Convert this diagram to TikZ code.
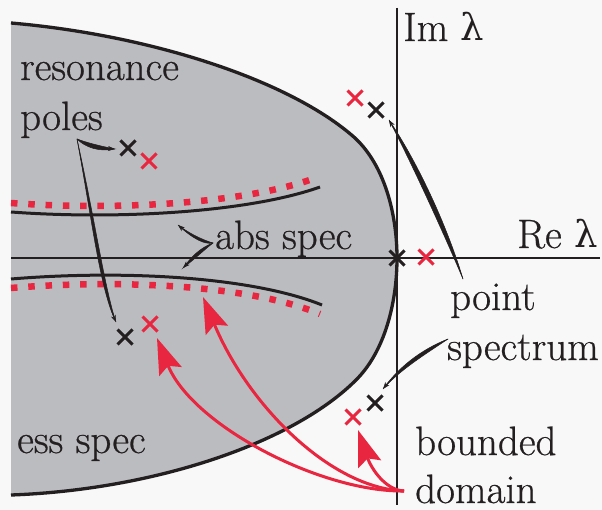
\documentclass[tikz,border=0pt]{standalone}
\usepackage{fontspec}
\newfontfamily\lamfont{DejaVu Serif}
\newfontfamily\lblfont{Latin Modern Roman}[FakeBold=0.6]
\usetikzlibrary{arrows.meta,shapes.misc}
\definecolor{bg}{HTML}{F8F8F8}
\definecolor{essgray}{HTML}{BBBCC0}
\definecolor{specred}{HTML}{E8263F}
\definecolor{ink}{HTML}{231F20}
\newcommand\lam{{\lamfont\fontsize{37}{42}\selectfont λ}}
\newcommand\essboundary{(11,23) .. controls (150,35) and (290,80) .. (355,138) .. controls (385,166) and (397,215) .. (397,258) .. controls (397,302) and (385,352) .. (355,381) .. controls (290,445) and (150,490) .. (11,495)}
\tikzset{
  xmk/.style={cross out, draw=#1, line width=3pt, minimum size=12pt, inner sep=0pt},
  lbl/.style={anchor=base west, inner sep=0pt, text=ink, font=\lblfont\fontsize{41}{48}\selectfont},
  swoosh/.style={draw=ink, fill=ink, line width=0.5pt},
  swtip/.style={draw=ink, line width=0.5pt, -{Stealth[length=7pt,width=5pt]}},
  redarrow/.style={draw=specred, line width=3pt, -{Stealth[length=36pt,width=24pt,inset=6pt]}},
  abscurve/.style={draw=ink, line width=3pt},
  absdots/.style={draw=specred, line width=6.5pt, dash pattern=on 6.5pt off 10.8pt}
}
\begin{document}
\begin{tikzpicture}[x=1pt,y=-1pt]
\useasboundingbox (0,0) rectangle (602,510);
\fill[bg] (0,0) rectangle (602,510);
% essential spectrum region
\fill[essgray] \essboundary -- cycle;
% absolute spectrum curves
\draw[absdots] (11,203) .. controls (120,211) and (250,203) .. (318,177);
\draw[abscurve] (11,212) .. controls (120,220) and (250,212) .. (320,187);
\draw[abscurve] (11,279) .. controls (120,270) and (250,276) .. (322,305);
\draw[absdots] (11,288) .. controls (120,279) and (250,285) .. (320,314);
% axes
\draw[ink, line width=1.3pt] (11,258) -- (600,258);
\draw[ink, line width=1.3pt] (397,8) -- (397,505);
% boundary
\draw[ink, line width=3.3pt] \essboundary;
% crosses
\node[xmk=ink] (x0) at (397,258) {};
\node[xmk=specred] (r0) at (426,257) {};
\node[xmk=specred] (ru) at (355,98) {};
\node[xmk=ink] (xu) at (376,110) {};
\node[xmk=ink] (xl) at (375,403) {};
\node[xmk=specred] (rl) at (353,417) {};
\node[xmk=ink] (pu) at (128,148) {};
\node[xmk=specred] (qu) at (149,161) {};
\node[xmk=ink] (pl) at (125,337) {};
\node[xmk=specred] (ql) at (150,324) {};
% labels
\node[lbl] (imlab) at (403,41) {Im \lam};
\node[lbl] (relab) at (517,248) {Re \lam};
\node[lbl] (res1) at (20,80) {resonance};
\node[lbl] (res2) at (20,130) {poles};
\node[lbl] (abs) at (215,249) {abs spec};
\node[lbl] (ess) at (17,453) {ess spec};
\node[lbl] (pt1) at (450,310) {point};
\node[lbl] (pt2) at (447,360) {spectrum};
\node[lbl] (bd1) at (415,455) {bounded};
\node[lbl] (bd2) at (415,503) {domain};
% connector end points
\coordinate (polesS) at (77,139);
\coordinate (t1) at (115,149);
\coordinate (t2) at (116,322);
\coordinate (absS) at (213,243);
\coordinate (t3) at (178,225);
\coordinate (t4) at (183,268);
\coordinate (pointS) at (463,279);
\coordinate (t5) at (389,120);
\coordinate (specS) at (448,339);
\coordinate (t6) at (383,389);
\coordinate (domS) at (404,491);
\coordinate (ta) at (358,430);
\coordinate (tb) at (203,297);
\coordinate (tc) at (157,338);
% black swooshes
\fill[swoosh] (polesS) .. controls (88,143) and (100,146) .. (t1) .. controls (100,152) and (86,148) .. (polesS);
\draw[swtip] (polesS) .. controls (88,145) and (100,148) .. (t1);
\fill[swoosh] (polesS) .. controls (92,220) and (100,290) .. (t2) .. controls (105,290) and (95,220) .. (polesS);
\draw[swtip] (polesS) .. controls (93,220) and (102,290) .. (t2);
\fill[swoosh] (absS) .. controls (203,240) and (190,234) .. (t3) .. controls (192,238) and (204,245) .. (absS);
\draw[swtip] (absS) .. controls (203,242) and (191,236) .. (t3);
\fill[swoosh] (absS) .. controls (200,248) and (192,256) .. (t4) .. controls (196,258) and (204,250) .. (absS);
\draw[swtip] (absS) .. controls (202,249) and (194,257) .. (t4);
\fill[swoosh] (pointS) .. controls (440,225) and (410,160) .. (t5) .. controls (415,158) and (446,222) .. (pointS);
\draw[swtip] (pointS) .. controls (443,224) and (412,159) .. (t5);
\fill[swoosh] (specS) .. controls (420,350) and (398,368) .. (t6) .. controls (400,370) and (424,355) .. (specS);
\draw[swtip] (specS) .. controls (422,352) and (399,369) .. (t6);
% red arrows from bounded domain
\draw[redarrow] (domS) .. controls (320,492) and (192,425) .. (tc);
\draw[redarrow] (domS) .. controls (330,488) and (248,405) .. (tb);
\draw[redarrow] (domS) .. controls (385,490) and (371,468) .. (ta);
\end{tikzpicture}
\end{document}
